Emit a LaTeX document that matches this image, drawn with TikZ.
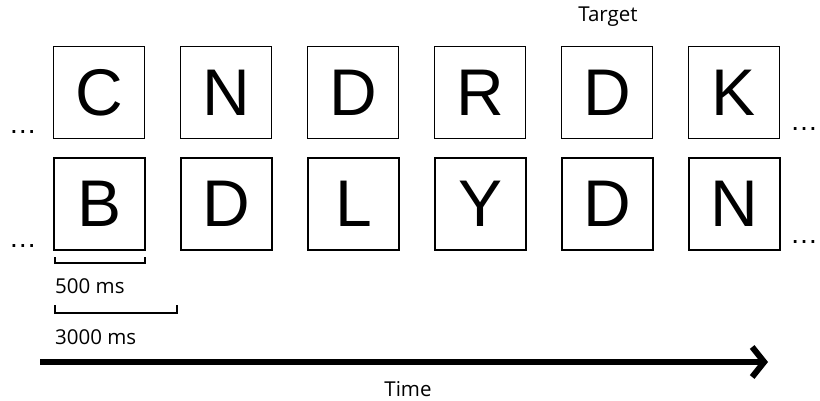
\documentclass[tikz,border=0pt]{standalone}
\usepackage{fontspec}
\setmainfont{Open Sans}
\newfontfamily\letterfont{Liberation Sans}
\usetikzlibrary{arrows.meta}
\begin{document}
\begin{tikzpicture}[x=1pt,y=-1pt,
  stim/.style={draw,line width=1.7pt,minimum width=91pt,minimum height=92pt,inner sep=0pt,font=\letterfont\fontsize{66}{66}\selectfont},
  lbl/.style={font=\fontsize{20.5}{24}\selectfont,inner sep=0pt},
  dotsn/.style={font=\letterfont\fontsize{28}{28}\selectfont,inner sep=0pt},
  brk/.style={line width=1.7pt}]
\useasboundingbox (0,0) rectangle (820,400);
\foreach \i/\t/\b in {0/C/B,1/N/D,2/D/L,3/R/Y,4/D/D,5/K/N}{
  \node[stim] (t\i) at (99+127*\i,92.5) {\t};
  \node[stim] (b\i) at (99.5+127*\i,204) {\b};
}
\node[lbl] (target) at (608,17) {Target};
\node[dotsn,anchor=base] (dl1) at (23,133) {…};
\node[dotsn,anchor=base] (dl2) at (23,247) {…};
\node[dotsn,anchor=base] (dr1) at (804,130) {…};
\node[dotsn,anchor=base] (dr2) at (804,243) {…};
\coordinate (a1) at (55,257);
\coordinate (a2) at (145,257);
\draw[brk] (a1) |- ++(45,6) -| (a2);
\node[lbl,anchor=base west] (ms500) at (55,293) {500 ms};
\coordinate (c1) at (55,305);
\coordinate (c2) at (177,305);
\draw[brk] (c1) |- ++(60,8) -| (c2);
\node[lbl,anchor=base west] (ms3000) at (55,344) {3000 ms};
\coordinate (s) at (40,362);
\coordinate (e) at (768,362);
\draw[line width=6pt,-{Straight Barb[length=12pt,width=30pt,line width=6pt]}] (s) -- (e);
\node[lbl,anchor=base] (time) at (408,396) {Time};
\end{tikzpicture}
\end{document}
